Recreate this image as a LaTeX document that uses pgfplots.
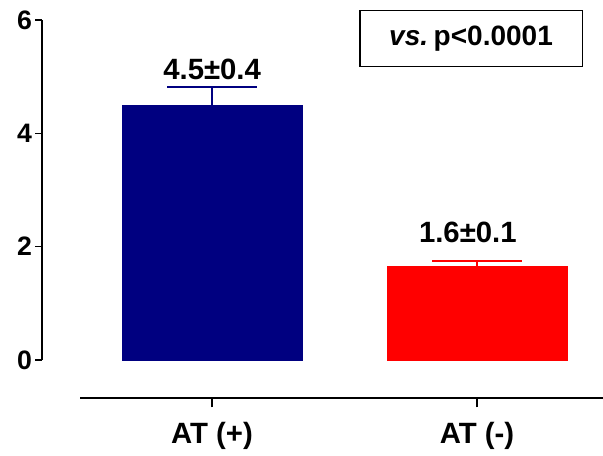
\documentclass[border=0pt]{standalone}
\usepackage{pgfplots}
\pgfplotsset{compat=1.18}
\usepackage{fontspec}
\setmainfont{Liberation Sans}
\definecolor{navybar}{RGB}{0,0,128}
\definecolor{redbar}{RGB}{255,0,0}
\begin{document}
\begin{tikzpicture}[x=1pt,y=1pt]
\useasboundingbox (-31.5,-71.25) rectangle (420.75,270);
\begin{axis}[
  at={(0pt,0pt)}, anchor=south west,
  scale only axis, width=420.75pt, height=255pt,
  xmin=-0.642, xmax=1.475, ymin=0, ymax=6,
  axis x line=none, axis y line*=left,
  ytick={0,2,4,6}, tick align=outside, major tick length=5pt,
  axis line style={line width=1pt, -}, every tick/.style={line width=1pt, black},
  yticklabel style={font=\fontsize{20}{22}\selectfont\bfseries, xshift=1pt},
  /pgf/number format/assume math mode=true,
  clip=false,
  ybar, bar width=0.68,
  error bars/y dir=plus, error bars/y explicit,
]
\addplot[fill=navybar, draw=navybar, bar shift=0pt,
  error bars/error bar style={line width=1pt, navybar},
  error bars/error mark options={rotate=90, mark size=33.75pt, line width=1.5pt, navybar}]
  coordinates {(0,4.5) +- (0,0.32)};
\addplot[fill=redbar, draw=redbar, bar shift=0pt,
  error bars/error bar style={line width=1pt, redbar},
  error bars/error mark options={rotate=90, mark size=33.75pt, line width=1.5pt, redbar}]
  coordinates {(1,1.66) +- (0,0.09)};
\node[font=\fontsize{22}{24}\selectfont\bfseries] at (axis cs:0,5.12) {4.5±0.4};
\node[font=\fontsize{22}{24}\selectfont\bfseries] at (axis cs:0.965,2.26) {1.6±0.1};
\node[draw=black, line width=0.8pt, minimum width=166.5pt, minimum height=42pt,
  font=\fontsize{21}{23}\selectfont\bfseries] at (axis cs:0.977,5.68) {\textit{vs.}\hspace{0.2em}p<0.0001};
\end{axis}
\begin{axis}[
  at={(28.5pt,-28.5pt)}, anchor=south west,
  scale only axis, width=392.25pt, height=10pt,
  xmin=-0.498, xmax=1.475, ymin=0, ymax=1,
  axis x line*=bottom, axis y line=none,
  axis line style={line width=1pt, -}, every tick/.style={line width=1pt, black},
  xtick={0,1}, xticklabels={AT (+), AT (-)},
  tick align=outside, major tick length=7pt,
  xticklabel style={font=\fontsize{22}{24}\selectfont\bfseries, yshift=-8pt},
]
\end{axis}
\end{tikzpicture}
\end{document}
